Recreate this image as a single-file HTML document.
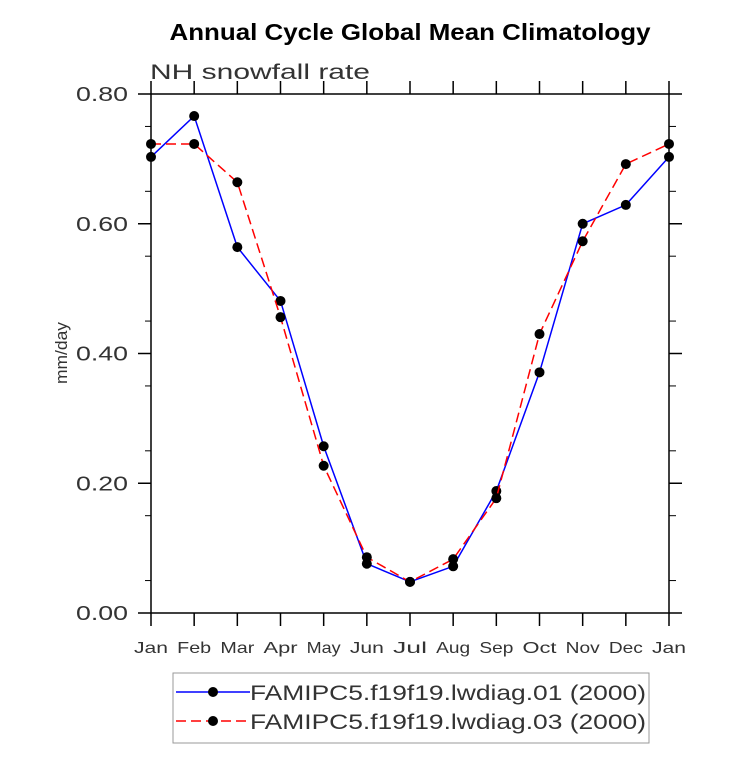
<!DOCTYPE html>
<html><head><meta charset="utf-8"><style>
body{margin:0;background:#fff;}
svg text{font-family:"Liberation Sans",sans-serif;}
</style></head><body>
<svg id="chart" width="733" height="763" xmlns="http://www.w3.org/2000/svg">
<text x="410" y="40" text-anchor="middle" font-size="23" font-weight="bold" textLength="481" lengthAdjust="spacingAndGlyphs">Annual Cycle Global Mean Climatology</text>
<text x="150" y="79" font-size="21" fill="#333" textLength="220" lengthAdjust="spacingAndGlyphs">NH snowfall rate</text>
<text transform="translate(67,353) rotate(-90)" text-anchor="middle" font-size="17" fill="#333" textLength="62" lengthAdjust="spacingAndGlyphs">mm/day</text>
<rect x="151" y="94" width="518" height="519" fill="none" stroke="#000" stroke-width="1.5"/>
<g id="axes"></g>
<g id="series"></g>
<g>
<rect x="173" y="673" width="476" height="70" fill="#fff" stroke="#999"/>
<line x1="176" y1="692" x2="250" y2="692" stroke="#0000ff" stroke-width="1.5"/>
<circle cx="213" cy="692" r="5"/>
<text x="250" y="700" font-size="21" fill="#333" textLength="396" lengthAdjust="spacingAndGlyphs">FAMIPC5.f19f19.lwdiag.01 (2000)</text>
<line x1="176" y1="721" x2="250" y2="721" stroke="#ff0000" stroke-width="1.5" stroke-dasharray="10,5"/>
<circle cx="213" cy="721" r="5"/>
<text x="250" y="729" font-size="21" fill="#333" textLength="396" lengthAdjust="spacingAndGlyphs">FAMIPC5.f19f19.lwdiag.03 (2000)</text>
</g>
</svg>
<script>
const months=["Jan","Feb","Mar","Apr","May","Jun","Jul","Aug","Sep","Oct","Nov","Dec","Jan"];
const series01=[0.703,0.766,0.564,0.481,0.257,0.076,0.048,0.072,0.188,0.371,0.600,0.629,0.703];
const series03=[0.723,0.723,0.664,0.456,0.227,0.086,0.048,0.083,0.177,0.430,0.573,0.692,0.723];
const yTicks=[0,0.2,0.4,0.6,0.8];
const yTickLabels=["0.00","0.20","0.40","0.60","0.80"];
const NS="http://www.w3.org/2000/svg";
const x=i=>151+i*(518/12);
const y=v=>613-v*(519/0.8);
const ax=document.getElementById("axes"),sg=document.getElementById("series");
function mk(tag,attrs,parent){const e=document.createElementNS(NS,tag);for(const k in attrs)e.setAttribute(k,attrs[k]);parent.appendChild(e);return e;}
yTicks.forEach((v,i)=>{
 const t=mk("line",{x1:138,x2:151,y1:y(v),y2:y(v),stroke:"#000","stroke-width":1.5},ax);
 
 
 mk("line",{x1:669,x2:682,y1:y(v),y2:y(v),stroke:"#000","stroke-width":1.5},ax);
 const l=mk("text",{x:128,y:y(v)+7,"text-anchor":"end","font-size":20,fill:"#333",textLength:52,lengthAdjust:"spacingAndGlyphs"},ax);
 l.textContent=yTickLabels[i];
 
 
});
for(let v=0.05;v<0.8;v+=0.1){
 mk("line",{x1:145,x2:151,y1:y(v),y2:y(v),stroke:"#000"},ax);
 mk("line",{x1:669,x2:676,y1:y(v),y2:y(v),stroke:"#000"},ax);
}
months.forEach((m,i)=>{
 mk("line",{x1:x(i),x2:x(i),y1:613,y2:626,stroke:"#000","stroke-width":1.5},ax);
 mk("line",{x1:x(i),x2:x(i),y1:81,y2:94,stroke:"#000","stroke-width":1.5},ax);
 const l=mk("text",{x:x(i),y:653,"text-anchor":"middle","font-size":16,fill:"#333",textLength:34,lengthAdjust:"spacingAndGlyphs"},ax);
 l.textContent=m;
 
 
});
function draw(data,color,dash,name){
 const p=mk("polyline",{points:data.map((v,i)=>x(i)+","+y(v)).join(" "),fill:"none",stroke:color,"stroke-width":1.5,"stroke-dasharray":dash},sg);
 
 
 data.forEach((v,i)=>{
  const c=mk("circle",{cx:x(i),cy:y(v),r:5,fill:"#000"},sg);
  
  
 });
}
draw(series01,"#0000ff","none","series-01");
draw(series03,"#ff0000","10,5","series-03");
</script>
</body></html>
